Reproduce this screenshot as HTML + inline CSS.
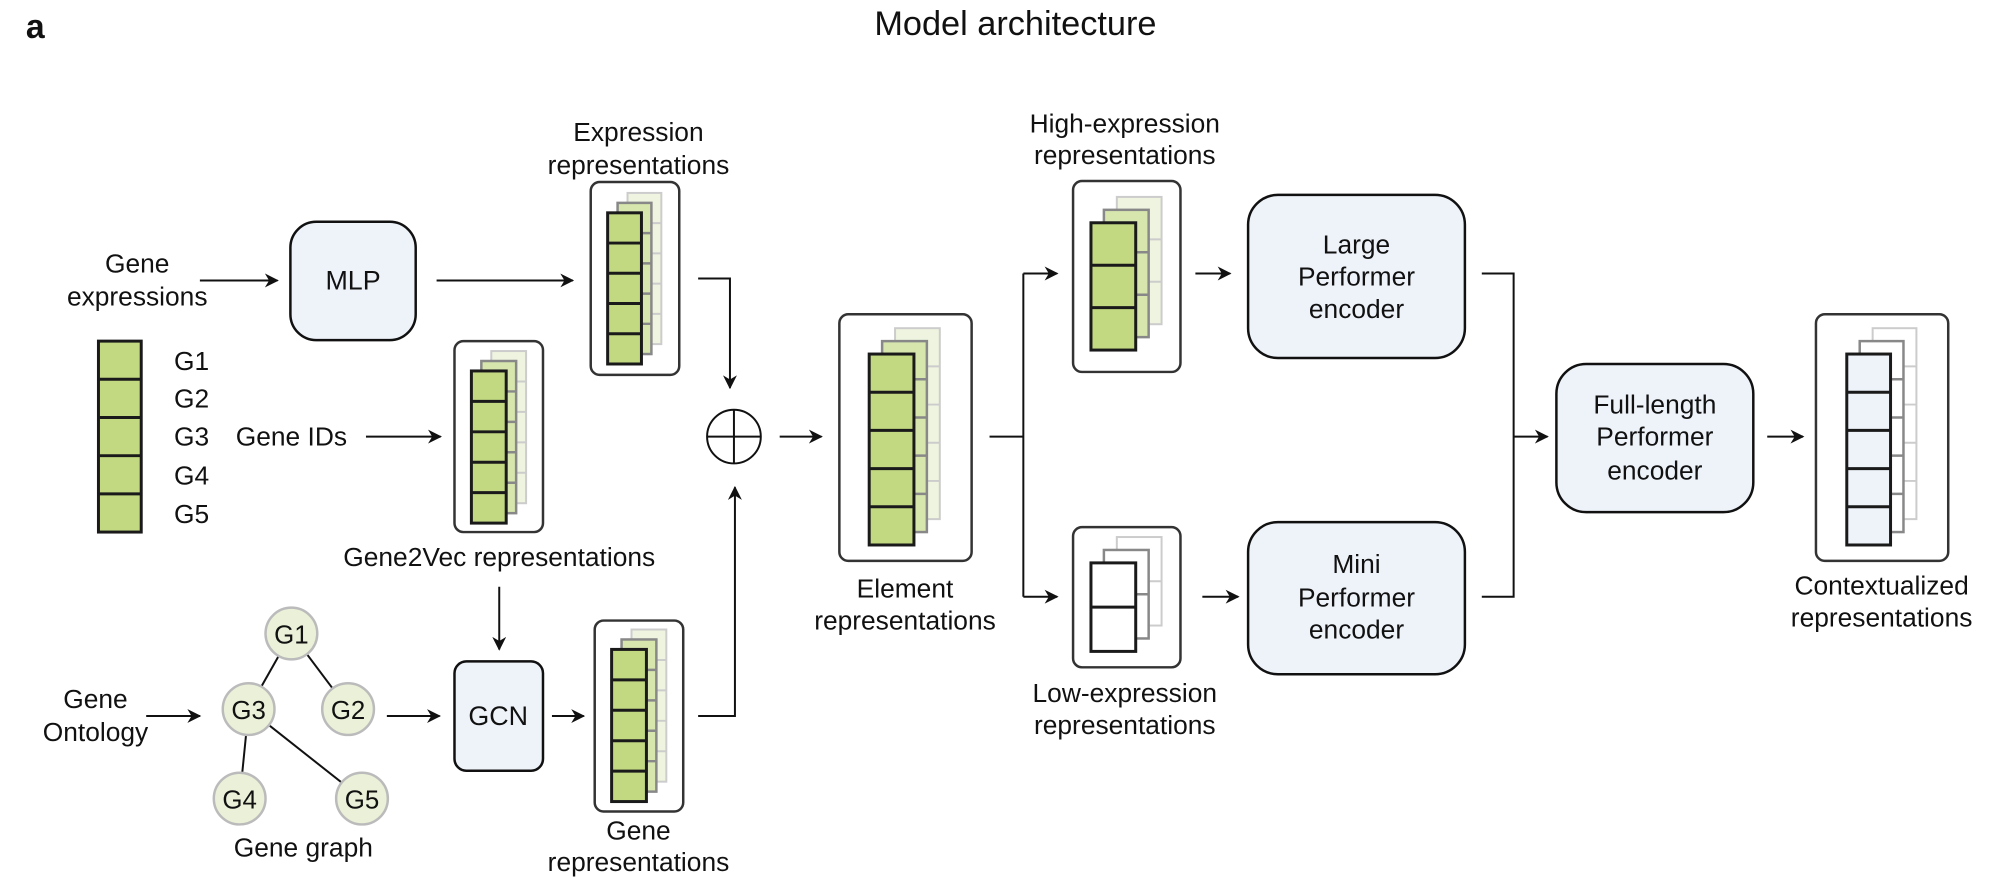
<!DOCTYPE html>
<html><head><meta charset="utf-8"><style>
html,body{margin:0;padding:0;background:#fff;}
svg{display:block;}
text{font-family:"Liberation Sans",Arial,sans-serif;fill:#111;}
</style></head><body>
<svg id="s" width="1998" height="888" viewBox="0 0 1998 888" xmlns="http://www.w3.org/2000/svg">
<defs>
<marker id="ar" viewBox="0 0 10 10" refX="9" refY="5" markerWidth="14" markerHeight="14" markerUnits="userSpaceOnUse" orient="auto"><path d="M0,0 L10,5 L0,10 L3,5 z" fill="#111"/></marker>
</defs>
<g transform="scale(0.9945)">
<g id="shapes"></g>
<g font-size="26.5" text-anchor="middle">
<text x="26" y="38" font-size="34" font-weight="bold" text-anchor="start">a</text>
<text x="1021" y="35" font-size="34.5">Model architecture</text>
<text x="138" y="274">Gene</text><text x="138" y="307">expressions</text>
<text x="355" y="291" font-size="27">MLP</text>
<text x="642" y="142">Expression</text><text x="642" y="175">representations</text>
<g text-anchor="start"><text x="175" y="372">G1</text><text x="175" y="410">G2</text><text x="175" y="448">G3</text><text x="175" y="487">G4</text><text x="175" y="526">G5</text></g>
<text x="293" y="448">Gene IDs</text>
<text x="502" y="569">Gene2Vec representations</text>
<text x="501" y="729" font-size="27">GCN</text>
<text x="96" y="712">Gene</text><text x="96" y="745">Ontology</text>
<text x="305" y="861">Gene graph</text>
<text x="642" y="844">Gene</text><text x="642" y="876">representations</text>
<text x="910" y="601">Element</text><text x="910" y="633">representations</text>
<text x="1131" y="133">High-expression</text><text x="1131" y="165">representations</text>
<text x="1131" y="706">Low-expression</text><text x="1131" y="738">representations</text>
<text x="1364" y="255">Large</text><text x="1364" y="287">Performer</text><text x="1364" y="320">encoder</text>
<text x="1364" y="576">Mini</text><text x="1364" y="610">Performer</text><text x="1364" y="642">encoder</text>
<text x="1664" y="416">Full-length</text><text x="1664" y="448">Performer</text><text x="1664" y="482">encoder</text>
<text x="1892" y="598">Contextualized</text><text x="1892" y="630">representations</text>
<g font-size="26"><text x="293" y="647">G1</text><text x="250" y="723">G3</text><text x="350" y="723">G2</text><text x="241" y="813">G4</text><text x="364" y="813">G5</text></g>
</g>
</g>
</svg>
<script>
var g=document.getElementById('shapes'),h='';
function R(x,y,w,hh,rx,fill,st,sw){h+='<rect x="'+x+'" y="'+y+'" width="'+w+'" height="'+hh+'" rx="'+rx+'" fill="'+fill+'" stroke="'+st+'" stroke-width="'+sw+'"/>';}
function L(pts,arrow){h+='<polyline points="'+pts+'" fill="none" stroke="#111" stroke-width="2"'+(arrow?' marker-end="url(#ar)"':'')+'/>';}
function col(x,y,w,H,n,fill,st,sw){R(x,y,w,H,0,fill,st,sw);var c=H/n;for(var i=1;i<n;i++){h+='<line x1="'+x+'" y1="'+(y+c*i)+'" x2="'+(x+w)+'" y2="'+(y+c*i)+'" stroke="'+st+'" stroke-width="'+sw+'"/>';}}
function stack(cx,cy,cw,ch,fx,fy,fw,fh,n,fr,b1,b2,s1,s2,o){R(cx,cy,cw,ch,9,'#fff','#333',2.5);col(fx+2*o,fy-2*o,fw,fh,n,b2,s2,2);col(fx+o,fy-o,fw,fh,n,b1,s1,2.5);col(fx,fy,fw,fh,n,fr,'#1a1a1a',3);}
var G='#c2d881',G1='#d6e6ad',G2='#eef4df';
col(99,343,43,192,5,G,'#1a1a1a',3);
R(292,223,126,119,26,'#eef3fa','#111',2.5);
R(457,665,89,110,12,'#eef3fa','#111',2.5);
R(1255,196,218,164,30,'#eef3fa','#111',2.5);
R(1255,525,218,153,30,'#eef3fa','#111',2.5);
R(1565,366,198,149,30,'#eef3fa','#111',2.5);
stack(594,183,89,194,611,214,34,152,5,G,G1,G2,'#888','#ccc',10);
stack(457,343,89,192,474,373,35,153,5,G,G1,G2,'#888','#ccc',10);
stack(598,624,89,192,615,653,35,153,5,G,G1,G2,'#888','#ccc',10);
stack(844,316,133,248,874,356,45,192,5,G,G1,G2,'#888','#ccc',13);
stack(1079,182,108,192,1097,224,45,128,3,G,G1,G2,'#888','#ccc',13);
stack(1079,530,108,141,1097,566,45,89,2,'#fff','#fff','#fff','#888','#ccc',13);
stack(1826,316,133,248,1857,356,44,192,5,'#eef3fa','#fff','#fff','#888','#ccc',13);
L('201,282 279,282',1);L('439,282 576,282',1);L('368,439 443,439',1);
L('502,590 502,653',1);L('147,720 201,720',1);L('389,720 442,720',1);L('555,720 587,720',1);
L('702,280 734,280 734,390',1);L('702,720 739,720 739,490',1);
L('784,439 826,439',1);
L('995,439 1029,439');L('1029,275 1029,600');L('1029,275 1063,275',1);L('1029,600 1063,600',1);
L('1202,275 1237,275',1);L('1209,600 1245,600',1);
L('1490,275 1522,275 1522,600 1490,600');L('1522,439 1556,439',1);
L('1777,439 1813,439',1);
h+='<circle cx="738" cy="439" r="27" fill="#fff" stroke="#111" stroke-width="2"/><line x1="711" y1="439" x2="765" y2="439" stroke="#111" stroke-width="2"/><line x1="738" y1="412" x2="738" y2="466" stroke="#111" stroke-width="2"/>';
[[293,637,250,713],[293,637,350,713],[250,713,241,803],[250,713,364,803]].forEach(function(e){h+='<line x1="'+e[0]+'" y1="'+e[1]+'" x2="'+e[2]+'" y2="'+e[3]+'" stroke="#111" stroke-width="2"/>';});
[[293,637],[250,713],[350,713],[241,803],[364,803]].forEach(function(c){h+='<circle cx="'+c[0]+'" cy="'+c[1]+'" r="26" fill="#eaf1d8" stroke="#bbb" stroke-width="2.5"/>';});
g.innerHTML=h;
</script>
</body></html>
